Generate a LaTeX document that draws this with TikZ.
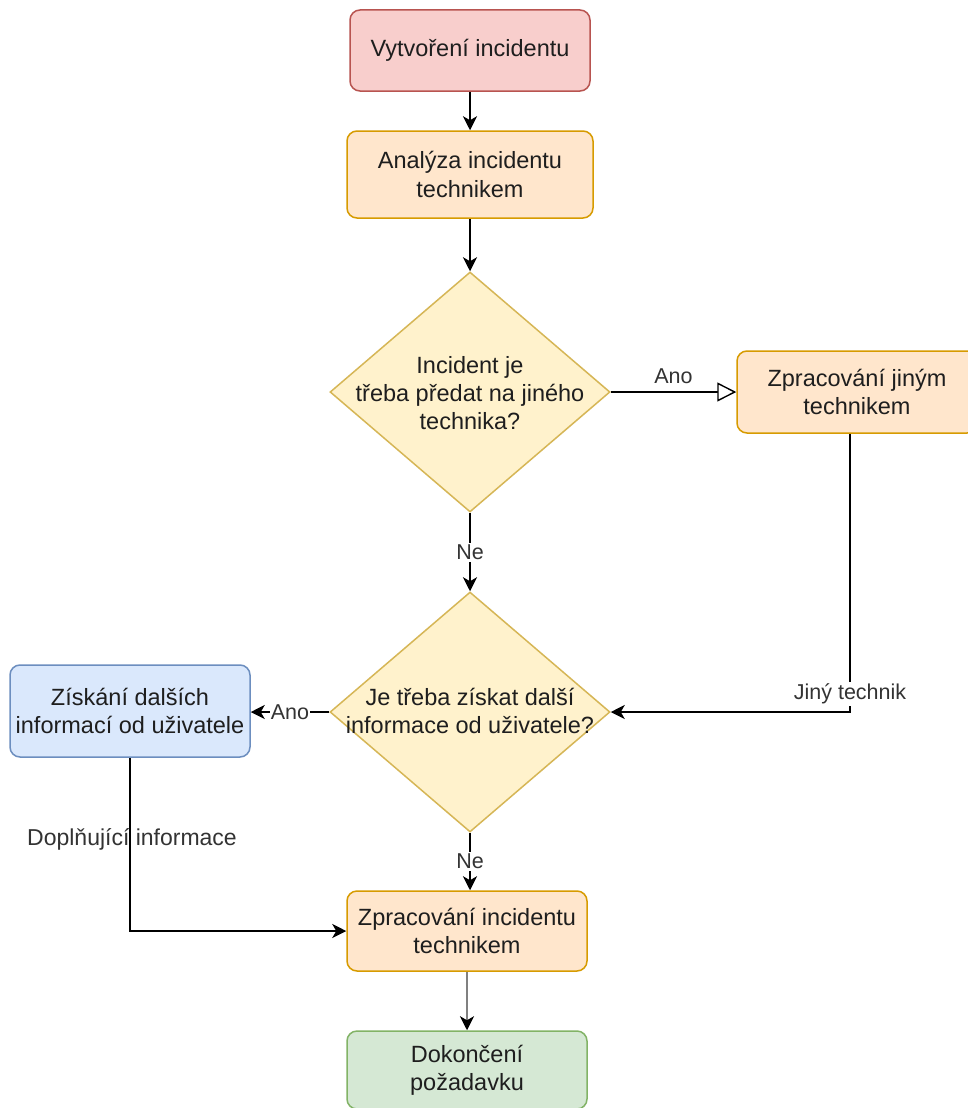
\documentclass[tikz,border=0pt]{standalone}
\usepackage{fontspec}
\setmainfont{Liberation Sans}
\usetikzlibrary{arrows.meta,shapes.geometric}

\definecolor{redfill}{HTML}{F8CECC}
\definecolor{redline}{HTML}{B85450}
\definecolor{orfill}{HTML}{FFE6CC}
\definecolor{orline}{HTML}{D79B00}
\definecolor{yelfill}{HTML}{FFF2CC}
\definecolor{yelline}{HTML}{D6B656}
\definecolor{bluefill}{HTML}{DAE8FC}
\definecolor{blueline}{HTML}{6C8EBF}
\definecolor{grnfill}{HTML}{D5E8D4}
\definecolor{grnline}{HTML}{82B366}
\definecolor{ink}{HTML}{1E1E1E}
\definecolor{lblink}{HTML}{333333}

\tikzset{
  nodefont/.style={font=\fontsize{23.5}{28.3}\selectfont, text=ink},
  box/.style={rectangle, rounded corners=10pt, line width=1.5pt,
    minimum width=240pt, minimum height=80pt, align=center, inner sep=0pt, nodefont},
  redbox/.style={box, draw=redline, fill=redfill},
  orbox/.style={box, draw=orline, fill=orfill},
  bluebox/.style={box, draw=blueline, fill=bluefill},
  grnbox/.style={box, draw=grnline, fill=grnfill},
  decision/.style={diamond, draw=yelline, fill=yelfill, line width=1.5pt,
    minimum width=280pt, minimum height=240pt, inner sep=0pt},
  dtext/.style={align=center, inner sep=0pt, nodefont},
  tip/.style={-{Stealth[length=14pt,width=14pt,inset=4pt]}},
  flow/.style={tip, line width=1.9pt, draw=black},
  greyflow/.style={line width=2pt, draw=gray, -{Stealth[length=14pt,width=14pt,inset=4pt,color=black]}},
  openflow/.style={line width=1.9pt, draw=black, -{Triangle[open,length=19pt,width=19pt,fill=white,line width=1.4pt]}},
  lbl/.style={font=\fontsize{21.5}{25}\selectfont, text=lblink, fill=white, inner sep=2pt},
  freelbl/.style={font=\fontsize{23}{27}\selectfont, text=lblink, inner sep=0pt},
}

\begin{document}
\begin{tikzpicture}[x=1pt, y=-1pt]
  \useasboundingbox (0,0) rectangle (968,1108);
  \clip (0,0) rectangle (968,1108);
  \fill[white] (0,0) rectangle (968,1108);

  % process steps
  \node[redbox, minimum height=81pt] (create) at (470,50.5) {Vytvoření incidentu};
  \node[orbox, minimum width=246pt, minimum height=87pt] (analyse) at (470,174.5) {Analýza incidentu\\technikem};
  \node[decision] (handover) at (470,392) {};
  \node[dtext] (handovertxt) at (470,393) {Incident je\\třeba předat na jiného\\technika?};
  \node[orbox, minimum height=82pt] (other) at (857,392) {Zpracování jiným\\technikem};
  \node[decision] (moreinfo) at (470,712) {};
  \node[dtext] (moreinfotxt) at (470,711) {Je třeba získat další\\informace od uživatele?};
  \node[bluebox, minimum height=92pt] (ask) at (130,711) {Získání dalších\\informací od uživatele};
  \node[orbox] (solve) at (467,931) {Zpracování incidentu\\technikem};
  \node[grnbox, minimum height=78pt] (done) at (467,1070) {Dokončení\\požadavku};

  % connectors
  \draw[flow] (create.south) -- (analyse.north);
  \draw[flow] (analyse.south) -- (handover.north);
  \draw[openflow] (handover.east) -- node[lbl, fill=none, above=5pt] (anotop) {Ano} (handover.east -| other.west);
  \draw[flow] (handover.south) -- node[lbl] (netop) {Ne} (moreinfo.north);
  \draw[flow] ([xshift=-7pt]other.south) |- node[lbl, pos=0.468] (jiny) {Jiný technik} (moreinfo.east);
  \draw[flow] (moreinfo.west) -- node[lbl, inner sep=1pt] (anoleft) {Ano} (moreinfo.west -| ask.east);
  \draw[flow] (moreinfo.south) -- node[lbl] (nebottom) {Ne} (moreinfo.south |- solve.north);
  \draw[flow] (ask.south) |- node[freelbl, pos=0.237, xshift=2pt] (extra) {Doplňující informace} (solve.west);
  \draw[greyflow] (solve.south) -- (done.north);
\end{tikzpicture}
\end{document}
